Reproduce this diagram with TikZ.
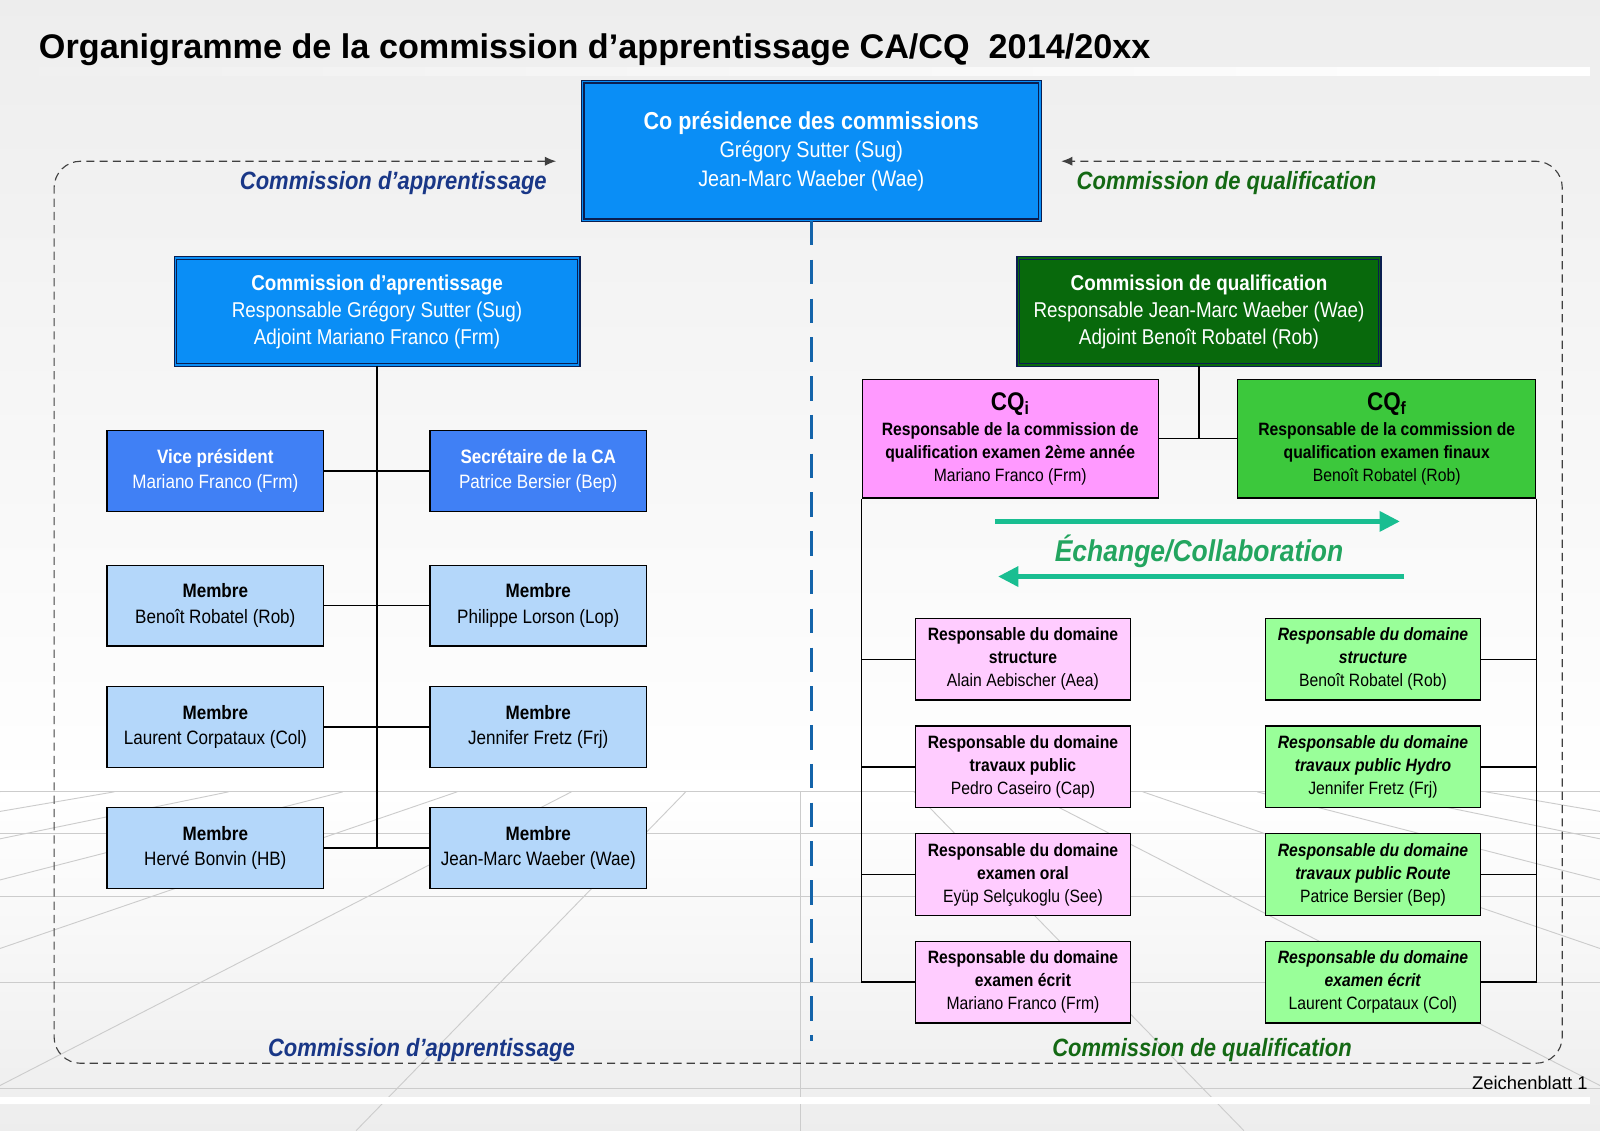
\documentclass[tikz,border=0pt]{standalone}
\usepackage{fontspec}
\setmainfont{Liberation Sans}
\newfontfamily\narrowfont{Liberation Sans}[FakeStretch=0.88]
\usetikzlibrary{arrows.meta, positioning, calc}

\definecolor{framenavy}{RGB}{10,30,80}
\definecolor{cpblue}{RGB}{10,142,246}
\definecolor{vpblue}{RGB}{64,128,245}
\definecolor{mbblue}{RGB}{180,215,250}
\definecolor{cqdark}{RGB}{8,105,12}
\definecolor{cqipink}{RGB}{255,153,255}
\definecolor{cqfgreen}{RGB}{60,200,60}
\definecolor{pklight}{RGB}{255,204,255}
\definecolor{grlight}{RGB}{153,255,153}
\definecolor{catext}{RGB}{25,55,135}
\definecolor{cqtext}{RGB}{20,105,20}
\definecolor{exteal}{RGB}{25,190,145}
\definecolor{extext}{RGB}{35,165,95}
\definecolor{axisblue}{RGB}{20,100,170}

\newcommand\boxfont[2]{\narrowfont\fontsize{#1}{#2}\selectfont}

\tikzset{%
  chief/.style={draw=framenavy, line width=1.1pt, double=#1, double distance=1.6pt,
    fill=#1, text=white, align=center, inner sep=0pt},
  tile/.style={draw=black, line width=1.3pt, fill=#1, align=center, inner sep=0pt,
    minimum width=212pt, minimum height=79pt, font=\boxfont{19}{25}},
  dom/.style={tile=#1, minimum width=211pt, minimum height=80pt, font=\boxfont{17.5}{22.5}},
  link/.style={draw=black, line width=1.3pt},
  floor/.style={draw=gray!40, line width=0.9pt},
  zone/.style={draw=black!75, line width=1.1pt, dash pattern=on 8pt off 5pt},
  middle/.style={draw=axisblue, line width=3pt, dash pattern=on 24pt off 14pt},
  exch/.style={draw=exteal, line width=5pt, -{Triangle[length=20pt,width=19pt]}},
  catag/.style={font=\boxfont{24.5}{30}\bfseries\itshape, text=catext, inner sep=0pt},
  cqtag/.style={font=\boxfont{24.5}{30}\bfseries\itshape, text=cqtext, inner sep=0pt}
}

\begin{document}
\begin{tikzpicture}[x=1pt, y=-1pt]
  \useasboundingbox (0,0) rectangle (1568,1108);
  % background and floor
  \shade[top color=gray!14, bottom color=white] (0,0) rectangle (1568,776);
  \shade[top color=white, bottom color=gray!14] (0,776) rectangle (1568,1108);
  \begin{scope}
    \clip (0,776) rectangle (1568,1108);
    \foreach \k in {-7,...,7}
      \draw[floor] ({784+112*\k},776) -- ({784+435*\k},1108);
    \foreach \y in {776,817,879,963,1067}
      \draw[floor] (0,\y) -- (1568,\y);
  \end{scope}
  \shade[left color=gray!12, right color=white] (38,66) rectangle (1558,74);
  \fill[white] (0,1075) rectangle (1558,1082);

  \node[anchor=base west, inner sep=0pt, font=\bfseries\fontsize{33.5}{36}\selectfont] (title) at (38,57)
    {Organigramme de la commission d’apprentissage CA/CQ~~2014/20xx};

  % co-presidence
  \node[chief=cpblue, minimum width=448pt, minimum height=136pt, font=\boxfont{22}{28}] (cp) at (795,148)
    {{\fontsize{24}{28}\selectfont\bfseries Co présidence des commissions}\\Grégory Sutter (Sug)\\Jean-Marc Waeber (Wae)};
  \coordinate (axisend) at (794,1020);
  \draw[middle] (cp.south) -- (cp.south |- axisend);

  % commission frame
  \coordinate (catip) at (545,158);
  \coordinate (cqtip) at (1040,158);
  \draw[zone, {Latex[length=11pt,width=9pt]}-{Latex[length=11pt,width=9pt]}, rounded corners=26pt]
    (catip) -- (53,158) -- (53,1042) -- (1531,1042) -- (1531,158) -- (cqtip);
  \node[catag, anchor=base east] (catop) at (536,186) {Commission d’apprentissage};
  \node[cqtag, anchor=base west] (cqtop) at (1055,186) {Commission de qualification};
  \node[catag, anchor=base] (cabot) at (413,1035) {Commission d’apprentissage};
  \node[cqtag, anchor=base] (cqbot) at (1178,1035) {Commission de qualification};

  % commission d'apprentissage
  \node[chief=cpblue, minimum width=395pt, minimum height=105pt, font=\boxfont{21}{26.5}] (ca) at (369.5,305.5)
    {\textbf{Commission d’aprentissage}\\Responsable Grégory Sutter (Sug)\\Adjoint Mariano Franco (Frm)};
  \node[tile=vpblue, text=white] (vp) at (211,461.5) {\textbf{Vice président}\\Mariano Franco (Frm)};
  \node[tile=vpblue, text=white] (sec) at (527.5,461.5) {\textbf{Secrétaire de la CA}\\Patrice Bersier (Bep)};
  \node[tile=mbblue] (m1l) at (211,593.5) {\textbf{Membre}\\Benoît Robatel (Rob)};
  \node[tile=mbblue] (m1r) at (527.5,593.5) {\textbf{Membre}\\Philippe Lorson (Lop)};
  \node[tile=mbblue] (m2l) at (211,712.5) {\textbf{Membre}\\Laurent Corpataux (Col)};
  \node[tile=mbblue] (m2r) at (527.5,712.5) {\textbf{Membre}\\Jennifer Fretz (Frj)};
  \node[tile=mbblue] (m3l) at (211,831) {\textbf{Membre}\\Hervé Bonvin (HB)};
  \node[tile=mbblue] (m3r) at (527.5,831) {\textbf{Membre}\\Jean-Marc Waeber (Wae)};
  \draw[link] (ca) -- (ca |- m3l);
  \draw[link] (vp) -- (sec);
  \draw[link] (m1l) -- (m1r);
  \draw[link] (m2l) -- (m2r);
  \draw[link] (m3l) -- (m3r);

  % commission de qualification
  \node[chief=cqdark, minimum width=354pt, minimum height=105pt, font=\boxfont{21}{26.5}] (cq) at (1175,305.5)
    {\textbf{Commission de qualification}\\Responsable Jean-Marc Waeber (Wae)\\Adjoint Benoît Robatel (Rob)};
  \node[dom=cqipink, minimum width=290pt, minimum height=116pt] (cqi) at (990,430)
    {{\fontsize{25}{25}\selectfont\bfseries CQ\textsubscript{i}}\\[2pt]\textbf{Responsable de la commission de}\\\textbf{qualification examen 2ème année}\\Mariano Franco (Frm)};
  \node[dom=cqfgreen, minimum width=292pt, minimum height=116pt] (cqf) at (1359,430)
    {{\fontsize{25}{25}\selectfont\bfseries CQ\textsubscript{f}}\\[2pt]\textbf{Responsable de la commission de}\\\textbf{qualification examen finaux}\\Benoît Robatel (Rob)};
  \draw[link] (cq) -- (cq |- cqi);
  \draw[link] (cqi) -- (cqf);

  \coordinate (ex1a) at (975,511);
  \coordinate (ex1b) at (1372,511);
  \coordinate (ex2a) at (1376,565);
  \coordinate (ex2b) at (978,565);
  \draw[exch] (ex1a) -- (ex1b);
  \draw[exch] (ex2a) -- (ex2b);
  \node[font=\boxfont{29.5}{32}\bfseries\itshape, text=extext] (swap) at (1175,540) {Échange/Collaboration};

  \foreach \i/\what/\who/\y in {1/structure/Alain Aebischer (Aea)/646,
      2/travaux public/Pedro Caseiro (Cap)/751.5,
      3/examen oral/Eyüp Selçukoglu (See)/857,
      4/examen écrit/Mariano Franco (Frm)/962.5}
    \node[dom=pklight] (pk\i) at (1002.5,\y) {\textbf{Responsable du domaine}\\\textbf{\what}\\\who};
  \foreach \i/\what/\who/\y in {1/structure/Benoît Robatel (Rob)/646,
      2/travaux public Hydro/Jennifer Fretz (Frj)/751.5,
      3/travaux public Route/Patrice Bersier (Bep)/857,
      4/examen écrit/Laurent Corpataux (Col)/962.5}
    \node[dom=grlight] (gr\i) at (1345.5,\y) {\textbf{\textit{Responsable du domaine}}\\\textbf{\textit{\what}}\\\who};
  \draw[link] (cqi.south west) |- (pk4);
  \draw[link] (cqf.south east) |- (gr4);
  \foreach \i in {1,2,3} {
    \draw[link] (pk\i) -- (pk\i -| cqi.south west);
    \draw[link] (gr\i) -- (gr\i -| cqf.south east);
  }

  \node[anchor=base east, inner sep=0pt, font=\fontsize{18}{20}\selectfont] (sheet) at (1556,1068) {Zeichenblatt 1};
\end{tikzpicture}
\end{document}
